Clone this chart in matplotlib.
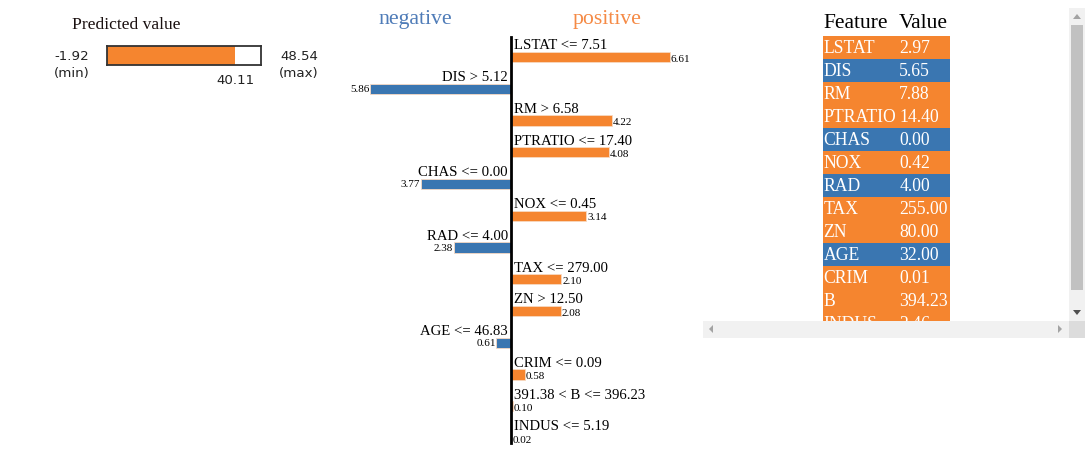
import matplotlib
matplotlib.use('Agg')
import matplotlib.pyplot as plt
from matplotlib.patches import Rectangle, Polygon

# Data
pred_min = -1.92
pred_max = 48.54
pred_value = 40.11

conditions = ['LSTAT <= 7.51', 'DIS > 5.12', 'RM > 6.58', 'PTRATIO <= 17.40',
              'CHAS <= 0.00', 'NOX <= 0.45', 'RAD <= 4.00', 'TAX <= 279.00',
              'ZN > 12.50', 'AGE <= 46.83', 'CRIM <= 0.09',
              '391.38 < B <= 396.23', 'INDUS <= 5.19']
weights = [6.61, -5.86, 4.22, 4.08, -3.77, 3.14, -2.38, 2.10, 2.08, -0.61,
           0.58, 0.10, 0.02]

features = ['LSTAT', 'DIS', 'RM', 'PTRATIO', 'CHAS', 'NOX', 'RAD', 'TAX',
            'ZN', 'AGE', 'CRIM', 'B', 'INDUS']
feature_values = ['2.97', '5.65', '7.88', '14.40', '0.00', '0.42', '4.00',
                  '255.00', '80.00', '32.00', '0.01', '394.23', '2.46']

BLUE = '#3a76b1'
ORANGE = '#f5852f'
SERIF = ['Liberation Serif', 'DejaVu Serif']
SANS = ['DejaVu Sans']

W, H = 1085, 461
fig = plt.figure(figsize=(W / 100, H / 100), dpi=100)


def px_axes(x0, y0, x1, y1):
    return fig.add_axes([x0 / W, 1 - y1 / H, (x1 - x0) / W, (y1 - y0) / H])


def px_text(x, y, s, **kw):
    fig.text(x / W, 1 - y / H, s, **kw)


# ---- Predicted value panel ----
px_text(126.5, 25, 'Predicted value', ha='center', va='center',
        family=SERIF, fontsize=12.6, color='#1a1010')
ax_p = px_axes(107, 46, 261, 65)
ax_p.barh([0], [pred_value - pred_min], left=pred_min, height=1.0,
          color=ORANGE, edgecolor='none')
ax_p.set_xlim(pred_min, pred_max)
ax_p.set_ylim(-0.5, 0.5)
ax_p.set_xticks([])
ax_p.set_yticks([])
for s in ax_p.spines.values():
    s.set_linewidth(1.3)
    s.set_color('#333333')
px_text(71.5, 57, f'{pred_min:.2f}', ha='center', va='center', family=SANS, fontsize=9.6, color='#222')
px_text(71.5, 74, '(min)', ha='center', va='center', family=SANS, fontsize=9.6, color='#222')
px_text(299, 57, f'{pred_max:.2f}', ha='center', va='center', family=SANS, fontsize=9.6, color='#222')
px_text(299, 74, '(max)', ha='center', va='center', family=SANS, fontsize=9.6, color='#222')
frac_x = 107 + (pred_value - pred_min) / (pred_max - pred_min) * (261 - 107)
px_text(frac_x, 80, f'{pred_value:.2f}', ha='center', va='center', family=SANS, fontsize=9.6, color='#222')

# ---- Explanation bars ----
row_h = 31.75
n = len(weights)
ax = px_axes(340, 57 - row_h * 0.5, 700, 57 + row_h * (n - 0.5))
ys = list(range(n))
colors = [ORANGE if w > 0 else BLUE for w in weights]
ax.barh(ys, weights, height=0.33, color=colors, edgecolor='#f7d9c2', linewidth=0.6)
ax.set_xlim(-171 / 24, 189 / 24)
ax.set_ylim(n - 0.5, -0.5)
ax.axis('off')
ax.plot([0, 0], [-0.63, 12.16], color='black', lw=2, clip_on=False, zorder=5)
for i, (c, w) in enumerate(zip(conditions, weights)):
    if w > 0:
        ax.text(0.12, i - 0.24, c, ha='left', va='baseline', family=SERIF, fontsize=10.6)
        ax.text(w + 0.03, i + 0.07, f'{abs(w):.2f}', ha='left', va='center', family=SERIF, fontsize=8)
    else:
        ax.text(-0.12, i - 0.24, c, ha='right', va='baseline', family=SERIF, fontsize=10.6)
        ax.text(w - 0.03, i + 0.03, f'{abs(w):.2f}', ha='right', va='center', family=SERIF, fontsize=8)

px_text(415, 24, 'negative', ha='center', va='baseline', family=SERIF, fontsize=15.7, color='#4f7cb8')
px_text(607, 24, 'positive', ha='center', va='baseline', family=SERIF, fontsize=15.7, color='#f58a45')

# ---- Feature value table ----
px_text(823, 28, 'Feature', ha='left', va='baseline', family=SERIF, fontsize=15.5)
px_text(899, 28, 'Value', ha='left', va='baseline', family=SERIF, fontsize=15.5)
cell_h = 23
ax_t = px_axes(823, 36, 950, 321)
tcolors = [ORANGE if w > 0 else BLUE for w in weights]
ax_t.barh([i + 0.5 for i in range(n)], [1] * n, left=0, height=1.0, color=tcolors, edgecolor='none')
ax_t.set_xlim(0, 1)
ax_t.set_ylim((321 - 36) / cell_h, 0)
ax_t.axis('off')
for i, (f, v) in enumerate(zip(features, feature_values)):
    ax_t.text(0.005, i + 0.55, f, ha='left', va='center', family=SERIF, fontsize=12.7,
              color='white', clip_on=True)
    ax_t.text(0.60, i + 0.55, v, ha='left', va='center', family=SERIF, fontsize=12.7,
              color='white', clip_on=True)

# ---- Scrollbars (overlay) ----
ov = fig.add_axes([0, 0, 1, 1], zorder=10)
ov.set_xlim(0, W)
ov.set_ylim(H, 0)
ov.axis('off')
ov.add_patch(Rectangle((1069, 8), 16, 313, color='#f1f1f1', lw=0))
ov.add_patch(Rectangle((1071, 25), 12, 265, color='#c1c1c1', lw=0))
ov.add_patch(Polygon([(1073, 19), (1081, 19), (1077, 14)], color='#a3a3a3', lw=0))
ov.add_patch(Polygon([(1073, 310), (1081, 310), (1077, 315)], color='#505050', lw=0))
ov.add_patch(Rectangle((703, 321), 366, 17, color='#f1f1f1', lw=0))
ov.add_patch(Rectangle((1069, 321), 16, 17, color='#dcdcdc', lw=0))
ov.add_patch(Polygon([(713, 325), (713, 333), (709, 329)], color='#a3a3a3', lw=0))
ov.add_patch(Polygon([(1058, 325), (1058, 333), (1062, 329)], color='#a3a3a3', lw=0))

fig.savefig('out.png', dpi=100)
